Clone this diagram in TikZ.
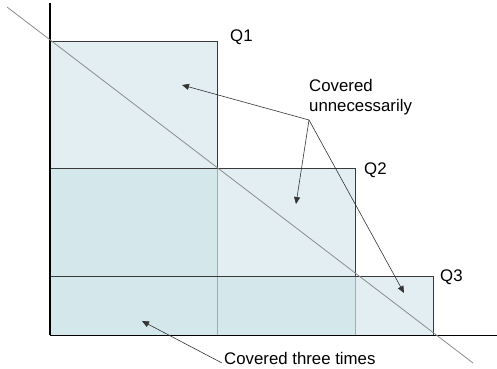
\documentclass[tikz,border=0pt]{standalone}
\usepackage{fontspec}
\setmainfont{Liberation Sans}
\usetikzlibrary{arrows.meta}
\definecolor{lightfill}{HTML}{E2EEF1}
\definecolor{darkfill}{HTML}{D4E7EA}
\definecolor{inner}{HTML}{9BB0B3}
\definecolor{edge}{HTML}{3A3A3A}
\tikzset{
  lbl/.style={inner sep=0pt, font=\fontsize{16.8}{20}\selectfont, align=left},
  pointer/.style={draw=black!80, line width=0.6pt, -{Triangle[length=7pt,width=6pt]}},
  outline/.style={draw=edge, line width=0.8pt},
}
\begin{document}
\begin{tikzpicture}[x=1pt,y=-1pt]
\useasboundingbox (0,0) rectangle (497,368);
% fills
\fill[lightfill] (50,41) rectangle (217,335);
\fill[lightfill] (217,168) rectangle (355,335);
\fill[lightfill] (355,276) rectangle (433,335);
\fill[darkfill] (50,168) rectangle (217,335);
\fill[darkfill] (217,276) rectangle (355,335);
% inner edges
\draw[inner, line width=0.8pt] (217,168) -- (217,335);
\draw[inner, line width=0.8pt] (355,276) -- (355,335);
% outlines
\draw[outline] (50,41) -- (217,41) -- (217,168);
\draw[outline] (50,168) -- (355,168) -- (355,276);
\draw[outline] (50,276) -- (433,276) -- (433,335);
% axes
\draw[black, line width=1.4pt] (50,3) -- (50,335);
\draw[black, line width=0.8pt] (50,335) -- (497,335);
% diagonal
\draw[black!45, line width=0.8pt] (7,7) -- (473,363);
% labels
\node[lbl, anchor=west] (q1) at (230,37) {Q1};
\node[lbl, anchor=west] (q2) at (364,170) {Q2};
\node[lbl, anchor=west] (q3) at (440,277) {Q3};
\node[lbl, anchor=north west] (cu) at (309,79) {Covered\\unnecessarily};
\node[lbl, anchor=west] (ct) at (224,358) {Covered three times};
% arrow ends
\coordinate (src) at (309,120);
\coordinate (a1) at (182,85);
\coordinate (a2) at (296,204);
\coordinate (a3) at (404,293);
\coordinate (src2) at (222,363);
\coordinate (a4) at (142,321);
\draw[pointer] (src) -- (a1);
\draw[pointer] (src) -- (a2);
\draw[pointer] (src) -- (a3);
\draw[pointer] (src2) -- (a4);
\end{tikzpicture}
\end{document}
